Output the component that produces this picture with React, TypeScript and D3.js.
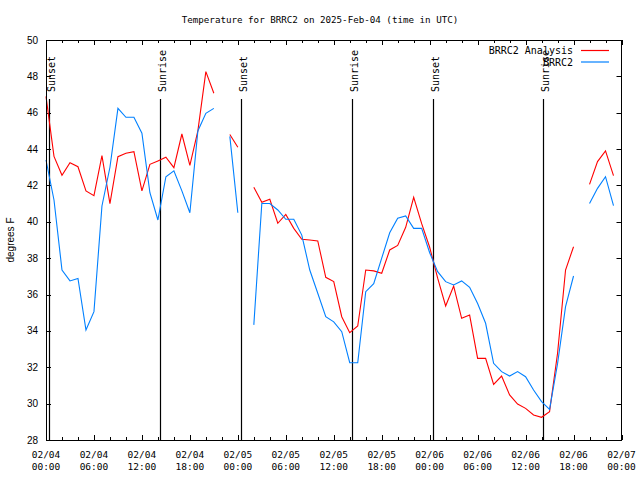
import React from "react";
import * as d3 from "d3";

const TITLE = "Temperature for BRRC2 on 2025-Feb-04 (time in UTC)";
const Y_LABEL = "degrees F";
const START_MS = Date.UTC(2025, 1, 4, 0, 0);
const X_DOMAIN_HOURS = [0, 72];
const Y_DOMAIN = [28, 50];

const seriesNames = ["BRRC2 Analysis", "BRRC2"];
const seriesColors = ["#ff0000", "#0080ff"];

// hourly values, index = hours since 2025-02-04 00:00 UTC
const analysis: (number | null)[] = [
  46.9, 43.6, 42.56, 43.25, 43.03, 41.7, 41.44, 43.64, 41.0, 43.58, 43.77, 43.86,
  41.7, 43.16, 43.35, 43.55, 42.98, 44.83, 43.1, 45.0, 48.26, 47.07, null, 44.8,
  44.1, null, 41.9, 41.07, 41.24, 39.92, 40.41, 39.64, 39.04, 39.0, 38.95, 36.95,
  36.71, 34.78, 33.9, 34.27, 37.35, 37.3, 37.17, 38.45, 38.7, 39.7, 41.35, 39.9,
  38.6, 36.9, 35.37, 36.47, 34.69, 34.87, 32.49, 32.49, 31.06, 31.52, 30.48, 29.98,
  29.74, 29.38, 29.25, 29.56, 32.77, 37.35, 38.63, null, 42.06, 43.31, 43.9, 42.54,
];

const observed: (number | null)[] = [
  43.4, 41.2, 37.35, 36.75, 36.89, 34.05, 35.06, 40.87, 43.0, 46.24, 45.75, 45.75,
  44.87, 41.6, 40.1, 42.48, 42.8, 41.7, 40.5, 45.0, 45.97, 46.24, null, 44.7,
  40.5, null, 34.33, 41.01, 41.01, 40.65, 40.14, 40.14, 39.27, 37.35, 36.07, 34.78,
  34.5, 33.96, 32.25, 32.25, 36.16, 36.6, 38.0, 39.4, 40.2, 40.32, 39.64, 39.64,
  38.3, 37.26, 36.71, 36.53, 36.75, 36.4, 35.51, 34.42, 32.22, 31.76, 31.52, 31.76,
  31.48, 30.75, 30.11, 29.69, 32.2, 35.33, 37.02, null, 41.01, 41.84, 42.48, 40.89,
];

const sunLabels = ["Sunset", "Sunrise", "Sunset", "Sunrise", "Sunset", "Sunrise"];
const sunHours = [0.41, 14.3, 24.43, 38.32, 48.46, 62.22];

const yTicks = [28, 30, 32, 34, 36, 38, 40, 42, 44, 46, 48, 50];
const xMajorTicks = [0, 6, 12, 18, 24, 30, 36, 42, 48, 54, 60, 66, 72];
const xMinorTicks = [2, 4, 8, 10, 14, 16, 20, 22, 26, 28, 32, 34, 38, 40, 44, 46, 50, 52, 56, 58, 62, 64, 68, 70];

const W = 640;
const H = 480;
const M = { left: 46, right: 621.5, top: 40, bottom: 440 };
const MONO = "'DejaVu Sans Mono', monospace";
const SANS = "'Liberation Sans', Arial, sans-serif";

export default function App() {
  const x = d3.scaleLinear().domain(X_DOMAIN_HOURS).range([M.left, M.right]);
  const y = d3.scaleLinear().domain(Y_DOMAIN).range([M.bottom, M.top]);
  const fmtDate = d3.utcFormat("%m/%d");
  const fmtTime = d3.utcFormat("%H:%M");
  const toDate = (h: number) => new Date(START_MS + h * 3600 * 1000);

  const line = d3
    .line<number | null>()
    .defined((d) => d != null)
    .x((_, i) => x(i))
    .y((d) => y(d as number));

  const allSeries = [analysis, observed];

  return (
    <svg
      width={W}
      height={H}
      style={{ position: "absolute", left: 0, top: 0, background: "#fff" }}
    >
      <rect x={0} y={0} width={W} height={H} fill="#fff" />
      <text x={320} y={19} textAnchor="middle" dominantBaseline="central" fontFamily={MONO} fontSize={9.2} fill="#000">
        {TITLE}
      </text>

      {/* y ticks */}
      {yTicks.map((t) => (
        <g key={"y" + t}>
          <line x1={M.left} x2={M.left + 5} y1={Math.round(y(t)) + 0.5} y2={Math.round(y(t)) + 0.5} stroke="#000" />
          <line x1={M.right - 5} x2={M.right} y1={Math.round(y(t)) + 0.5} y2={Math.round(y(t)) + 0.5} stroke="#000" />
          <text x={38} y={y(t)} textAnchor="end" dominantBaseline="central" fontFamily={SANS} fontSize={10} fill="#000">
            {t}
          </text>
        </g>
      ))}

      {/* x ticks */}
      {xMajorTicks.map((t) => (
        <g key={"xM" + t}>
          <line x1={Math.round(x(t)) + 0.5} x2={Math.round(x(t)) + 0.5} y1={M.top} y2={M.top + 5} stroke="#000" />
          <line x1={Math.round(x(t)) + 0.5} x2={Math.round(x(t)) + 0.5} y1={M.bottom - 5} y2={M.bottom} stroke="#000" />
          <text x={x(t)} y={454} textAnchor="middle" dominantBaseline="central" fontFamily={MONO} fontSize={9.5} fill="#000">
            {fmtDate(toDate(t))}
          </text>
          <text x={x(t)} y={466} textAnchor="middle" dominantBaseline="central" fontFamily={MONO} fontSize={9.5} fill="#000">
            {fmtTime(toDate(t))}
          </text>
        </g>
      ))}
      {xMinorTicks.map((t) => (
        <g key={"xm" + t}>
          <line x1={Math.round(x(t)) + 0.5} x2={Math.round(x(t)) + 0.5} y1={M.top} y2={M.top + 3} stroke="#000" />
          <line x1={Math.round(x(t)) + 0.5} x2={Math.round(x(t)) + 0.5} y1={M.bottom - 3} y2={M.bottom} stroke="#000" />
        </g>
      ))}

      <text
        transform={`translate(10.5, 240) rotate(-90)`}
        textAnchor="middle"
        dominantBaseline="central"
        fontFamily={SANS}
        fontSize={10}
        fill="#000"
      >
        {Y_LABEL}
      </text>

      {/* sunrise / sunset markers */}
      {sunHours.map((h, i) => {
        const px = Math.round(x(h)) + 0.5;
        return (
          <g key={"sun" + i}>
            <line x1={px} x2={px} y1={99} y2={M.bottom} stroke="#000" strokeWidth={1.2} />
            <text
              transform={`translate(${px + 1.5}, 92) rotate(-90)`}
              textAnchor="start"
              dominantBaseline="central"
              fontFamily={MONO}
              fontSize={10}
              fill="#000"
            >
              {sunLabels[i]}
            </text>
          </g>
        );
      })}

      {/* series */}
      {allSeries.map((s, i) => (
        <path key={"s" + i} d={line(s) || ""} fill="none" stroke={seriesColors[i]} strokeWidth={1.1} />
      ))}

      {/* legend */}
      {seriesNames.map((n, i) => (
        <g key={"lg" + i}>
          <text x={573} y={50.5 + i * 11.5} textAnchor="end" dominantBaseline="central" fontFamily={MONO} fontSize={10} fill="#000">
            {n}
          </text>
          <line x1={581} x2={609} y1={50.5 + i * 11.5} y2={50.5 + i * 11.5} stroke={seriesColors[i]} strokeWidth={1.2} />
        </g>
      ))}

      {/* frame */}
      <rect x={M.left + 0.5} y={M.top + 0.5} width={M.right - M.left - 0.5} height={M.bottom - M.top} fill="none" stroke="#000" />
    </svg>
  );
}
